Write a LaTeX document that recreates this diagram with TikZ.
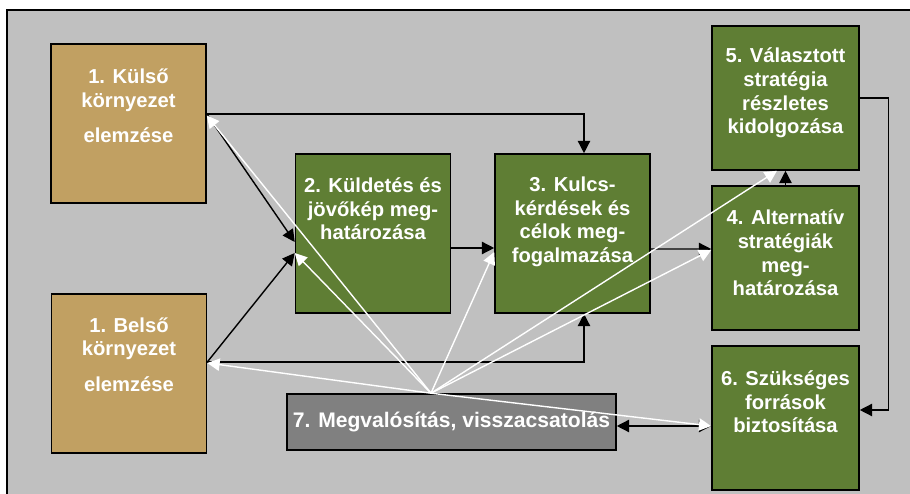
\documentclass[tikz,border=0pt]{standalone}
\usepackage[svgnames]{xcolor}
\usepackage{fontspec}
\setmainfont{Liberation Sans}
\usepackage{tikz}
\usetikzlibrary{arrows.meta}
\definecolor{soil}{HTML}{C1A062}
\definecolor{leaf}{HTML}{5F7E34}
\definecolor{ash}{HTML}{808080}
\definecolor{canvas}{HTML}{C0C0C0}

\begin{document}
\begin{tikzpicture}[
  >={Triangle[length=7pt,width=7pt]},
  every node/.style={font=\fontsize{11.5}{13.4}\selectfont\bfseries},
  phase/.style={draw=black,line width=0.9pt,inner sep=0pt},
  wide phase/.style={phase,minimum width=3.1cm,minimum height=3.18cm},
  narrow phase/.style={phase,fill=leaf,minimum width=2.94cm,minimum height=2.88cm},
  phase text/.style={text=white,align=center},
  link/.style={line width=0.8pt,->},
  feedback/.style={white,line width=0.8pt,->},
]
\useasboundingbox (0,0) rectangle (18.2,-9.88);
\draw[fill=canvas,line width=1pt] (0.14,-0.2) rectangle (18.5,-10.2);

% environment analysis
\node[wide phase,fill=soil,label={[phase text,yshift=0.35cm]center:{1. Külső\\környezet\\[0.24cm]elemzése}}] (kulso) at (2.57,-2.47) {};
\node[wide phase,fill=soil,label={[phase text,yshift=0.38cm]center:{1. Belső\\környezet\\[0.24cm]elemzése}}] (belso) at (2.58,-7.47) {};

% planning steps
\node[wide phase,fill=leaf,label={[phase text,yshift=0.49cm]center:{2. Küldetés és\\jövőkép meg-\\határozása}}] (kuldetes) at (7.46,-4.67) {};
\node[wide phase,fill=leaf,label={[phase text,yshift=0.23cm]center:{3. Kulcs-\\kérdések és\\célok meg-\\fogalmazása}}] (kulcs) at (11.45,-4.67) {};
\node[narrow phase,label={[phase text,yshift=0.1cm]center:{5. Választott\\stratégia\\részletes\\kidolgozása}}] (valasztott) at (15.71,-1.96) {};
\node[narrow phase,label={[phase text,yshift=0.1cm]center:{4. Alternatív\\stratégiák\\meg-\\határozása}}] (alternativ) at (15.71,-5.16) {};
\node[narrow phase,label={[phase text,yshift=0.32cm]center:{6. Szükséges\\források\\biztosítása}}] (szukseges) at (15.71,-8.36) {};
\node[phase,fill=ash,text=white,minimum width=6.58cm,minimum height=1.12cm,font=\fontsize{12}{14}\selectfont\bfseries] (megval) at (9.03,-8.44) {7. Megvalósítás, visszacsatolás};

% black flow
\draw[link] ([yshift=0.19cm]kulso.east) -| ([xshift=0.23cm]kulcs.north);
\draw[link] ([yshift=0.19cm]kulso.east) -- ([yshift=-0.17cm]kuldetes.west);
\draw[link] ([yshift=0.23cm]belso.east) -- ([yshift=-0.39cm]kuldetes.west);
\draw[link] ([yshift=0.23cm]belso.east) -| ([xshift=0.23cm]kulcs.south);
\draw[link] ([yshift=-0.29cm]kuldetes.east) -- ([yshift=-0.29cm]kulcs.west);
\draw[link] ([yshift=-0.31cm]kulcs.east) -- ([yshift=0.18cm]alternativ.west);
\draw[link] (alternativ.north) -- (valasztott.south);
\draw[link] (valasztott.east) -- ++(0.58,0) |- ([yshift=0.16cm]szukseges.east);
\draw[link,<->] ([yshift=-0.08cm]megval.east) -- ([yshift=-0.16cm]szukseges.west);

% feedback
\coordinate (hub) at ([xshift=-0.41cm]megval.north);
\foreach \tgt/\dx/\dy in {kulso.east/0/0.16,kuldetes.west/0/-0.39,kulcs.west/0/-0.37,
  valasztott.south/-0.17/0,alternativ.west/0/0.16,szukseges.west/0/-0.16,belso.east/0/0.21}
  \draw[feedback] (hub) -- ([xshift=\dx cm,yshift=\dy cm]\tgt);
\end{tikzpicture}
\end{document}
